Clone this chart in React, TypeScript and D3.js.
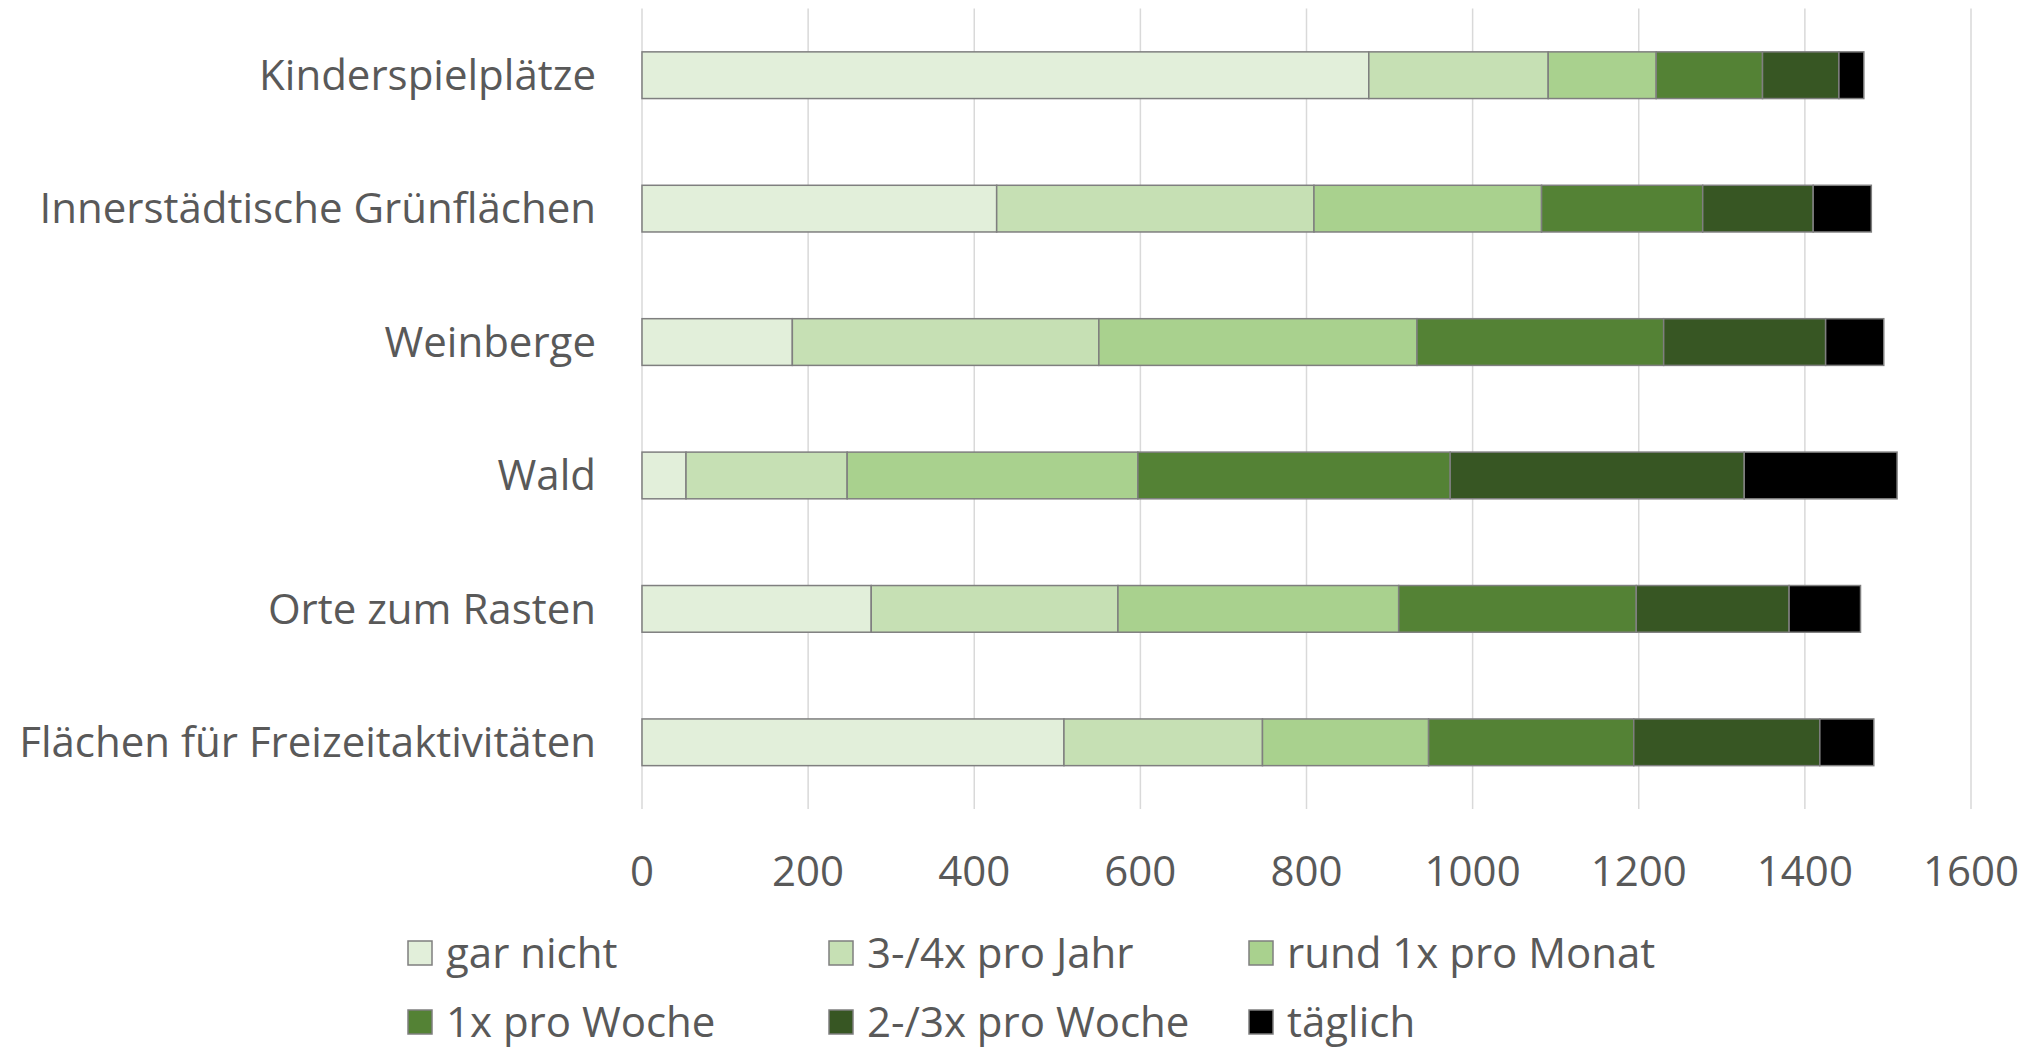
import { useEffect, useRef } from 'react';
import * as d3 from 'd3';

const places = [
  'Kinderspielplätze',
  'Innerstädtische Grünflächen',
  'Weinberge',
  'Wald',
  'Orte zum Rasten',
  'Flächen für Freizeitaktivitäten',
];

const frequencies = [
  'gar nicht',
  '3-/4x pro Jahr',
  'rund 1x pro Monat',
  '1x pro Woche',
  '2-/3x pro Woche',
  'täglich',
];

// one array per frequency, same order as places
const garNicht = [875, 427, 181, 53, 276, 508];
const proJahr = [216, 382, 369, 194, 297, 239];
const proMonat = [130, 274, 383, 350, 338, 200];
const proWoche = [128, 194, 297, 376, 286, 247];
const mehrProWoche = [92, 133, 195, 354, 184, 224];
const taeglich = [30, 70, 70, 184, 86, 65];

const xTicks = [0, 200, 400, 600, 800, 1000, 1200, 1400, 1600];

const colors = ['#e2efda', '#c6e0b4', '#a9d18e', '#548235', '#375623', '#000000'];

export default function App() {
  const ref = useRef<SVGSVGElement>(null);

  useEffect(() => {
    const W = 2032;
    const H = 1048;
    const left = 642;
    const right = 1971;
    const top = 8.5;
    const bottom = 809;
    const font = '"Open Sans", sans-serif';
    const textColor = '#595959';

    const svg = d3.select(ref.current);
    svg.selectAll('*').remove();
    svg.attr('width', W).attr('height', H);

    const series = [garNicht, proJahr, proMonat, proWoche, mehrProWoche, taeglich];
    const rows = places.map((p, i) => {
      const row: any = { place: p };
      frequencies.forEach((f, j) => (row[f] = series[j][i]));
      return row;
    });

    const stacked = d3.stack().keys(frequencies)(rows);

    const x = d3.scaleLinear().domain([0, 1600]).range([left, right]);
    const y = d3.scaleBand().domain(places).range([top, bottom]).paddingInner(0.65).paddingOuter(0.325);
    const color = d3.scaleOrdinal<string, string>().domain(frequencies).range(colors);

    // gridlines
    svg
      .append('g')
      .selectAll('line')
      .data(xTicks)
      .join('line')
      .attr('x1', (d) => x(d))
      .attr('x2', (d) => x(d))
      .attr('y1', top)
      .attr('y2', bottom)
      .attr('stroke', '#d9d9d9')
      .attr('stroke-width', 1.5);

    // bars
    svg
      .append('g')
      .selectAll('g')
      .data(stacked)
      .join('g')
      .attr('fill', (d) => color(d.key))
      .selectAll('rect')
      .data((d) => d)
      .join('rect')
      .attr('x', (d) => x(d[0]))
      .attr('y', (d: any) => y(d.data.place)!)
      .attr('width', (d) => x(d[1]) - x(d[0]))
      .attr('height', y.bandwidth())
      .attr('stroke', '#7f7f7f')
      .attr('stroke-width', 1.5);

    // x axis labels
    svg
      .append('g')
      .selectAll('text')
      .data(xTicks)
      .join('text')
      .attr('x', (d) => x(d))
      .attr('y', 886)
      .attr('text-anchor', 'middle')
      .attr('fill', textColor)
      .style('font-family', font)
      .style('font-size', '42px')
      .text((d) => d);

    // category labels
    svg
      .append('g')
      .selectAll('text')
      .data(places)
      .join('text')
      .attr('x', 596)
      .attr('y', (d) => y(d)! + y.bandwidth() / 2)
      .attr('dy', '0.35em')
      .attr('text-anchor', 'end')
      .attr('fill', textColor)
      .style('font-family', font)
      .style('font-size', '42px')
      .text((d) => d);

    // legend
    const colX = [408, 829, 1249];
    const rowY = [953, 1022];
    const legend = svg.append('g');
    frequencies.forEach((f, i) => {
      const g = legend
        .append('g')
        .attr('transform', `translate(${colX[i % 3]},${rowY[Math.floor(i / 3)]})`);
      g.append('rect')
        .attr('x', 0)
        .attr('y', -12)
        .attr('width', 24)
        .attr('height', 24)
        .attr('fill', color(f))
        .attr('stroke', '#7f7f7f')
        .attr('stroke-width', 1.5);
      g.append('text')
        .attr('x', 38)
        .attr('y', 0)
        .attr('dy', '0.35em')
        .attr('fill', textColor)
        .style('font-family', font)
        .style('font-size', '42px')
        .text(f);
    });
  }, []);

  return (
    <svg
      ref={ref}
      style={{ position: 'absolute', left: 0, top: 0, background: '#fff' }}
    />
  );
}
